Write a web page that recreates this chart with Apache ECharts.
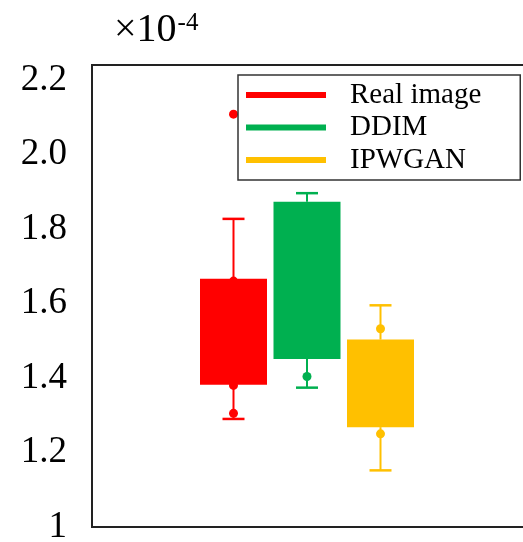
<!DOCTYPE html>
<html>
<head>
<meta charset="utf-8">
<script src="https://cdn.jsdelivr.net/npm/echarts@6/dist/echarts.min.js"></script>
<style>
html,body{margin:0;padding:0;background:#fff;}
#chart{width:523px;height:542px;}
</style>
</head>
<body>
<div id="chart"></div>
<script>
// ---- data (values in units of 1e-4) ----
const categories = ['Real image', 'DDIM', 'IPWGAN'];
const whiskerLow  = [1.290, 1.374, 1.152];
const boxLow      = [1.382, 1.451, 1.268];
const boxHigh     = [1.666, 1.873, 1.503];
const whiskerHigh = [1.827, 1.896, 1.595];
const realImageDots = [2.108, 1.660, 1.380, 1.305];
const ddimDots      = [1.404];
const ipwganDots    = [1.532, 1.250];
const yTickValues = [1, 1.2, 1.4, 1.6, 1.8, 2.0, 2.2];
const yTickLabels = ['1', '1.2', '1.4', '1.6', '1.8', '2.0', '2.2'];
const colors = ['#FF0000', '#00B050', '#FFC000'];

// ---- layout ----
const FONT = 'Liberation Serif';
const gridLeft = 92, gridTop = 65, gridWidth = 460, gridHeight = 462;
const unitPx = 73.5, firstCenter = 233.5;
const xMin = -(firstCenter - gridLeft) / unitPx;
const xMax = xMin + gridWidth / unitPx;
const BOX_W = 67 / unitPx, CAP_W = 22 / unitPx;

const chart = echarts.init(document.getElementById('chart'), null, {renderer: 'canvas'});

function renderBox(params, api) {
  const x = api.value(0);
  const pLow = api.coord([x, api.value(1)]);
  const pQ1 = api.coord([x, api.value(2)]);
  const pQ3 = api.coord([x, api.value(3)]);
  const pHigh = api.coord([x, api.value(4)]);
  const unit = api.size([1, 0])[0];
  const bw = unit * BOX_W, cw = unit * CAP_W;
  const color = api.visual('color');
  const line = (x1, y1, x2, y2, w) => ({
    type: 'line', shape: {x1, y1, x2, y2},
    style: {stroke: color, lineWidth: w}
  });
  return {
    type: 'group',
    children: [
      line(pHigh[0], pHigh[1], pQ3[0], pQ3[1], 2),
      line(pQ1[0], pQ1[1], pLow[0], pLow[1], 2),
      line(pHigh[0] - cw / 2, pHigh[1], pHigh[0] + cw / 2, pHigh[1], 2.5),
      line(pLow[0] - cw / 2, pLow[1], pLow[0] + cw / 2, pLow[1], 2.5),
      {
        type: 'rect',
        shape: {x: pQ3[0] - bw / 2, y: pQ3[1], width: bw, height: pQ1[1] - pQ3[1]},
        style: {fill: color}
      }
    ]
  };
}

const boxSeries = categories.map((name, i) => ({
  name: name,
  type: 'custom',
  renderItem: renderBox,
  itemStyle: {color: colors[i]},
  encode: {x: 0, y: [1, 2, 3, 4]},
  data: [[i, whiskerLow[i], boxLow[i], boxHigh[i], whiskerHigh[i]]],
  clip: false,
  z: 2
}));

const dotSets = [realImageDots, ddimDots, ipwganDots];
const dotSeries = dotSets.map((vals, i) => ({
  type: 'scatter',
  symbol: 'circle',
  symbolSize: 9,
  itemStyle: {color: colors[i], opacity: 1},
  data: vals.map(v => [i, v]),
  z: 3,
  silent: true
}));

chart.setOption({
  animation: false,
  backgroundColor: '#fff',
  title: {
    text: '{base|×10}{sup|-4}',
    left: 114, top: 10, padding: 0,
    textStyle: {
      fontWeight: 'normal',
      rich: {
        base: {fontFamily: FONT, fontSize: 40, fontWeight: 'normal', color: '#000', verticalAlign: 'bottom'},
        sup: {fontFamily: FONT, fontSize: 25, fontWeight: 'normal', color: '#000', verticalAlign: 'top', padding: [1, 0, 0, 1]}
      }
    }
  },
  legend: {
    data: categories,
    left: 238, top: 75,
    orient: 'vertical',
    icon: 'rect',
    itemWidth: 80, itemHeight: 6,
    itemGap: 3.5,
    padding: [5.5, 39, 5.5, 8],
    borderColor: '#333', borderWidth: 1.5,
    backgroundColor: '#fff',
    textStyle: {fontFamily: FONT, fontSize: 29, color: '#000', lineHeight: 29, padding: [0, 0, 0, 19]},
    selectedMode: false
  },
  grid: {
    left: gridLeft, top: gridTop, width: gridWidth, height: gridHeight,
    outerBoundsMode: 'none', containLabel: false,
    show: true, borderColor: '#222', borderWidth: 2, backgroundColor: 'transparent'
  },
  xAxis: {
    type: 'value', min: xMin, max: xMax,
    axisLine: {show: false}, axisTick: {show: false}, axisLabel: {show: false}, splitLine: {show: false}
  },
  yAxis: {
    type: 'value', min: 1, max: 2.24,
    axisLine: {show: false}, axisTick: {show: false}, splitLine: {show: false},
    axisLabel: {
      customValues: yTickValues,
      formatter: v => yTickLabels[yTickValues.findIndex(t => Math.abs(t - v) < 1e-9)] ?? String(v),
      fontFamily: FONT, fontSize: 37, color: '#000', margin: 25
    }
  },
  series: boxSeries.concat(dotSeries)
});
</script>
</body>
</html>
